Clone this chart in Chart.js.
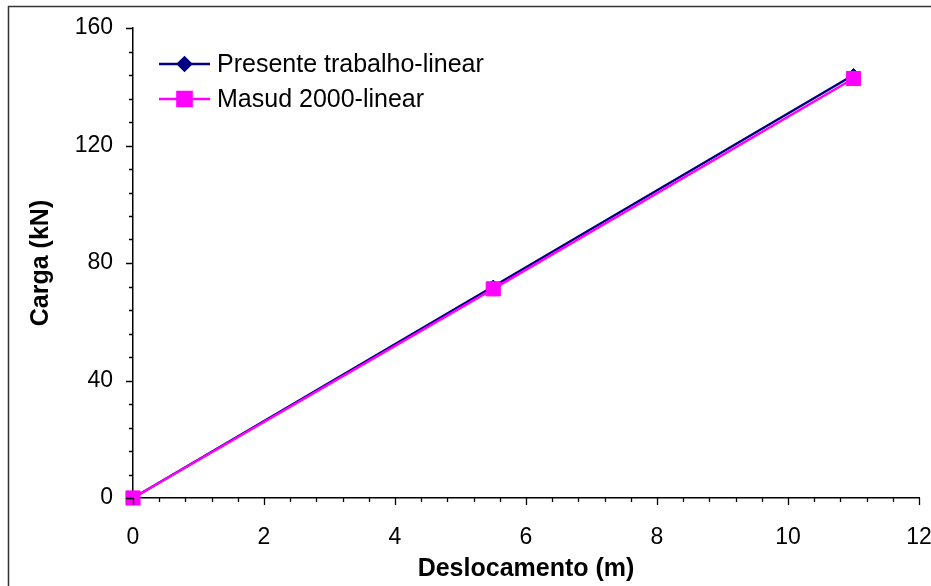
<!DOCTYPE html>
<html>
<head>
<meta charset="utf-8">
<script src="https://cdn.jsdelivr.net/npm/chart.js@4.4.1/dist/chart.umd.min.js"></script>
<style>
  html, body { margin: 0; padding: 0; background: #fff; }
  #wrap { width: 931px; height: 586px; position: relative; }
</style>
</head>
<body>
<div id="wrap"><canvas id="c" width="931" height="586"></canvas></div>
<script>
// Displacement (m) and load (kN) for each analysis
const deslocamento = [0, 5.5, 11];
const presenteTrabalho = [0, 72, 144];
const masud2000 = [0, 71.2, 142.8];
const seriesNames = ['Presente trabalho-linear', 'Masud 2000-linear'];
const xTicks = [0, 2, 4, 6, 8, 10, 12];
const yTicks = [0, 40, 80, 120, 160];

const FONT = '"Liberation Sans", Arial, sans-serif';

// Outer frame of the chart object
const framePlugin = {
  id: 'frame',
  beforeDraw(chart) {
    const ctx = chart.ctx;
    ctx.save();
    ctx.fillStyle = '#fff';
    ctx.fillRect(0, 0, chart.width, chart.height);
    ctx.strokeStyle = '#333';
    ctx.lineWidth = 1.5;
    ctx.beginPath();
    ctx.moveTo(8.5, chart.height + 5);
    ctx.lineTo(8.5, 6.5);
    ctx.lineTo(chart.width + 5, 6.5);
    ctx.stroke();
    ctx.restore();
  }
};

// Major and minor tick marks along both axes
const tickPlugin = {
  id: 'tickMarks',
  afterDraw(chart) {
    const ctx = chart.ctx;
    const xs = chart.scales.x, ys = chart.scales.y;
    const x0 = xs.left, y0 = ys.bottom;
    ctx.save();
    ctx.strokeStyle = '#000';
    ctx.lineWidth = 1.3;
    ctx.beginPath();
    for (let i = 0; i <= 30; i++) {
      const v = i * 0.4;
      const px = Math.round(xs.getPixelForValue(v)) + 0.5;
      const major = i % 5 === 0;
      ctx.moveTo(px, y0);
      ctx.lineTo(px, y0 + (major ? 7 : 4));
    }
    for (let i = 0; i <= 20; i++) {
      const v = i * 8;
      const py = Math.round(ys.getPixelForValue(v)) + 0.5;
      const major = i % 5 === 0;
      ctx.moveTo(x0, py);
      ctx.lineTo(x0 - (major ? 7 : 4), py);
    }
    ctx.stroke();
    ctx.restore();
  }
};

// Legend drawn inside the plot area, top-left
const insideLegend = {
  id: 'insideLegend',
  afterDraw(chart) {
    const ctx = chart.ctx;
    const area = chart.chartArea;
    const lx0 = area.left + 26, lx1 = area.left + 77, tx = area.left + 84;
    const rows = [area.top + 36, area.top + 71];
    chart.data.datasets.forEach((ds, i) => {
      const y = rows[i];
      ctx.save();
      ctx.strokeStyle = ds.borderColor;
      ctx.lineWidth = ds.borderWidth;
      ctx.beginPath();
      ctx.moveTo(lx0, y);
      ctx.lineTo(lx1, y);
      ctx.stroke();
      ctx.fillStyle = ds.pointBackgroundColor;
      ctx.strokeStyle = ds.pointBorderColor;
      Chart.helpers.drawPoint(ctx, {
        pointStyle: ds.pointStyle,
        radius: ds.pointRadius,
        borderWidth: 1
      }, (lx0 + lx1) / 2, y);
      ctx.font = '25px ' + FONT;
      ctx.textBaseline = 'middle';
      ctx.fillStyle = '#000';
      ctx.fillText(ds.label, tx, y + 1);
      ctx.restore();
    });
  }
};

const toPoints = (ys) => deslocamento.map((x, i) => ({ x: x, y: ys[i] }));

new Chart(document.getElementById('c'), {
  type: 'line',
  data: {
    datasets: [
      {
        label: seriesNames[0],
        data: toPoints(presenteTrabalho),
        borderColor: '#000080',
        backgroundColor: '#000080',
        pointBackgroundColor: '#000080',
        pointBorderColor: '#000080',
        borderWidth: 2.5,
        pointStyle: 'rectRot',
        pointRadius: 6.5,
        pointBorderWidth: 1,
        tension: 0,
        clip: false,
        order: 1
      },
      {
        label: seriesNames[1],
        data: toPoints(masud2000),
        borderColor: '#FF00FF',
        backgroundColor: '#FF00FF',
        pointBackgroundColor: '#FF00FF',
        pointBorderColor: '#FF00FF',
        borderWidth: 2.5,
        pointStyle: 'rect',
        pointRadius: 10,
        pointBorderWidth: 1,
        tension: 0,
        clip: false,
        order: 0
      }
    ]
  },
  options: {
    responsive: false,
    animation: false,
    layout: { padding: { left: 10, right: 12, top: 28, bottom: 0 } },
    plugins: {
      legend: { display: false },
      tooltip: { enabled: false }
    },
    scales: {
      x: {
        type: 'linear',
        min: 0, max: 12,
        afterBuildTicks: (s) => { s.ticks = xTicks.map(v => ({ value: v })); },
        afterFit: (s) => { s.height = 88; s.paddingLeft = 0; s.paddingRight = 0; },
        grid: { display: false, drawTicks: false },
        border: { display: true, color: '#000', width: 1.5 },
        ticks: { color: '#000', font: { family: FONT, size: 23 }, padding: 26, maxRotation: 0 },
        title: {
          display: true, text: 'Deslocamento (m)', color: '#000',
          font: { family: FONT, size: 25, weight: 'bold' },
          padding: { top: 0, bottom: 2 }
        }
      },
      y: {
        type: 'linear',
        min: 0, max: 160,
        afterBuildTicks: (s) => { s.ticks = yTicks.map(v => ({ value: v })); },
        afterFit: (s) => { s.width = 123; s.paddingTop = 0; s.paddingBottom = 0; },
        grid: { display: false, drawTicks: false },
        border: { display: true, color: '#000', width: 1.5 },
        ticks: { color: '#000', font: { family: FONT, size: 23 }, padding: 20 },
        title: {
          display: true, text: 'Carga (kN)', color: '#000',
          font: { family: FONT, size: 25, weight: 'bold' },
          padding: { top: 16, bottom: 0 }
        }
      }
    }
  },
  plugins: [framePlugin, tickPlugin, insideLegend]
});
</script>
</body>
</html>
